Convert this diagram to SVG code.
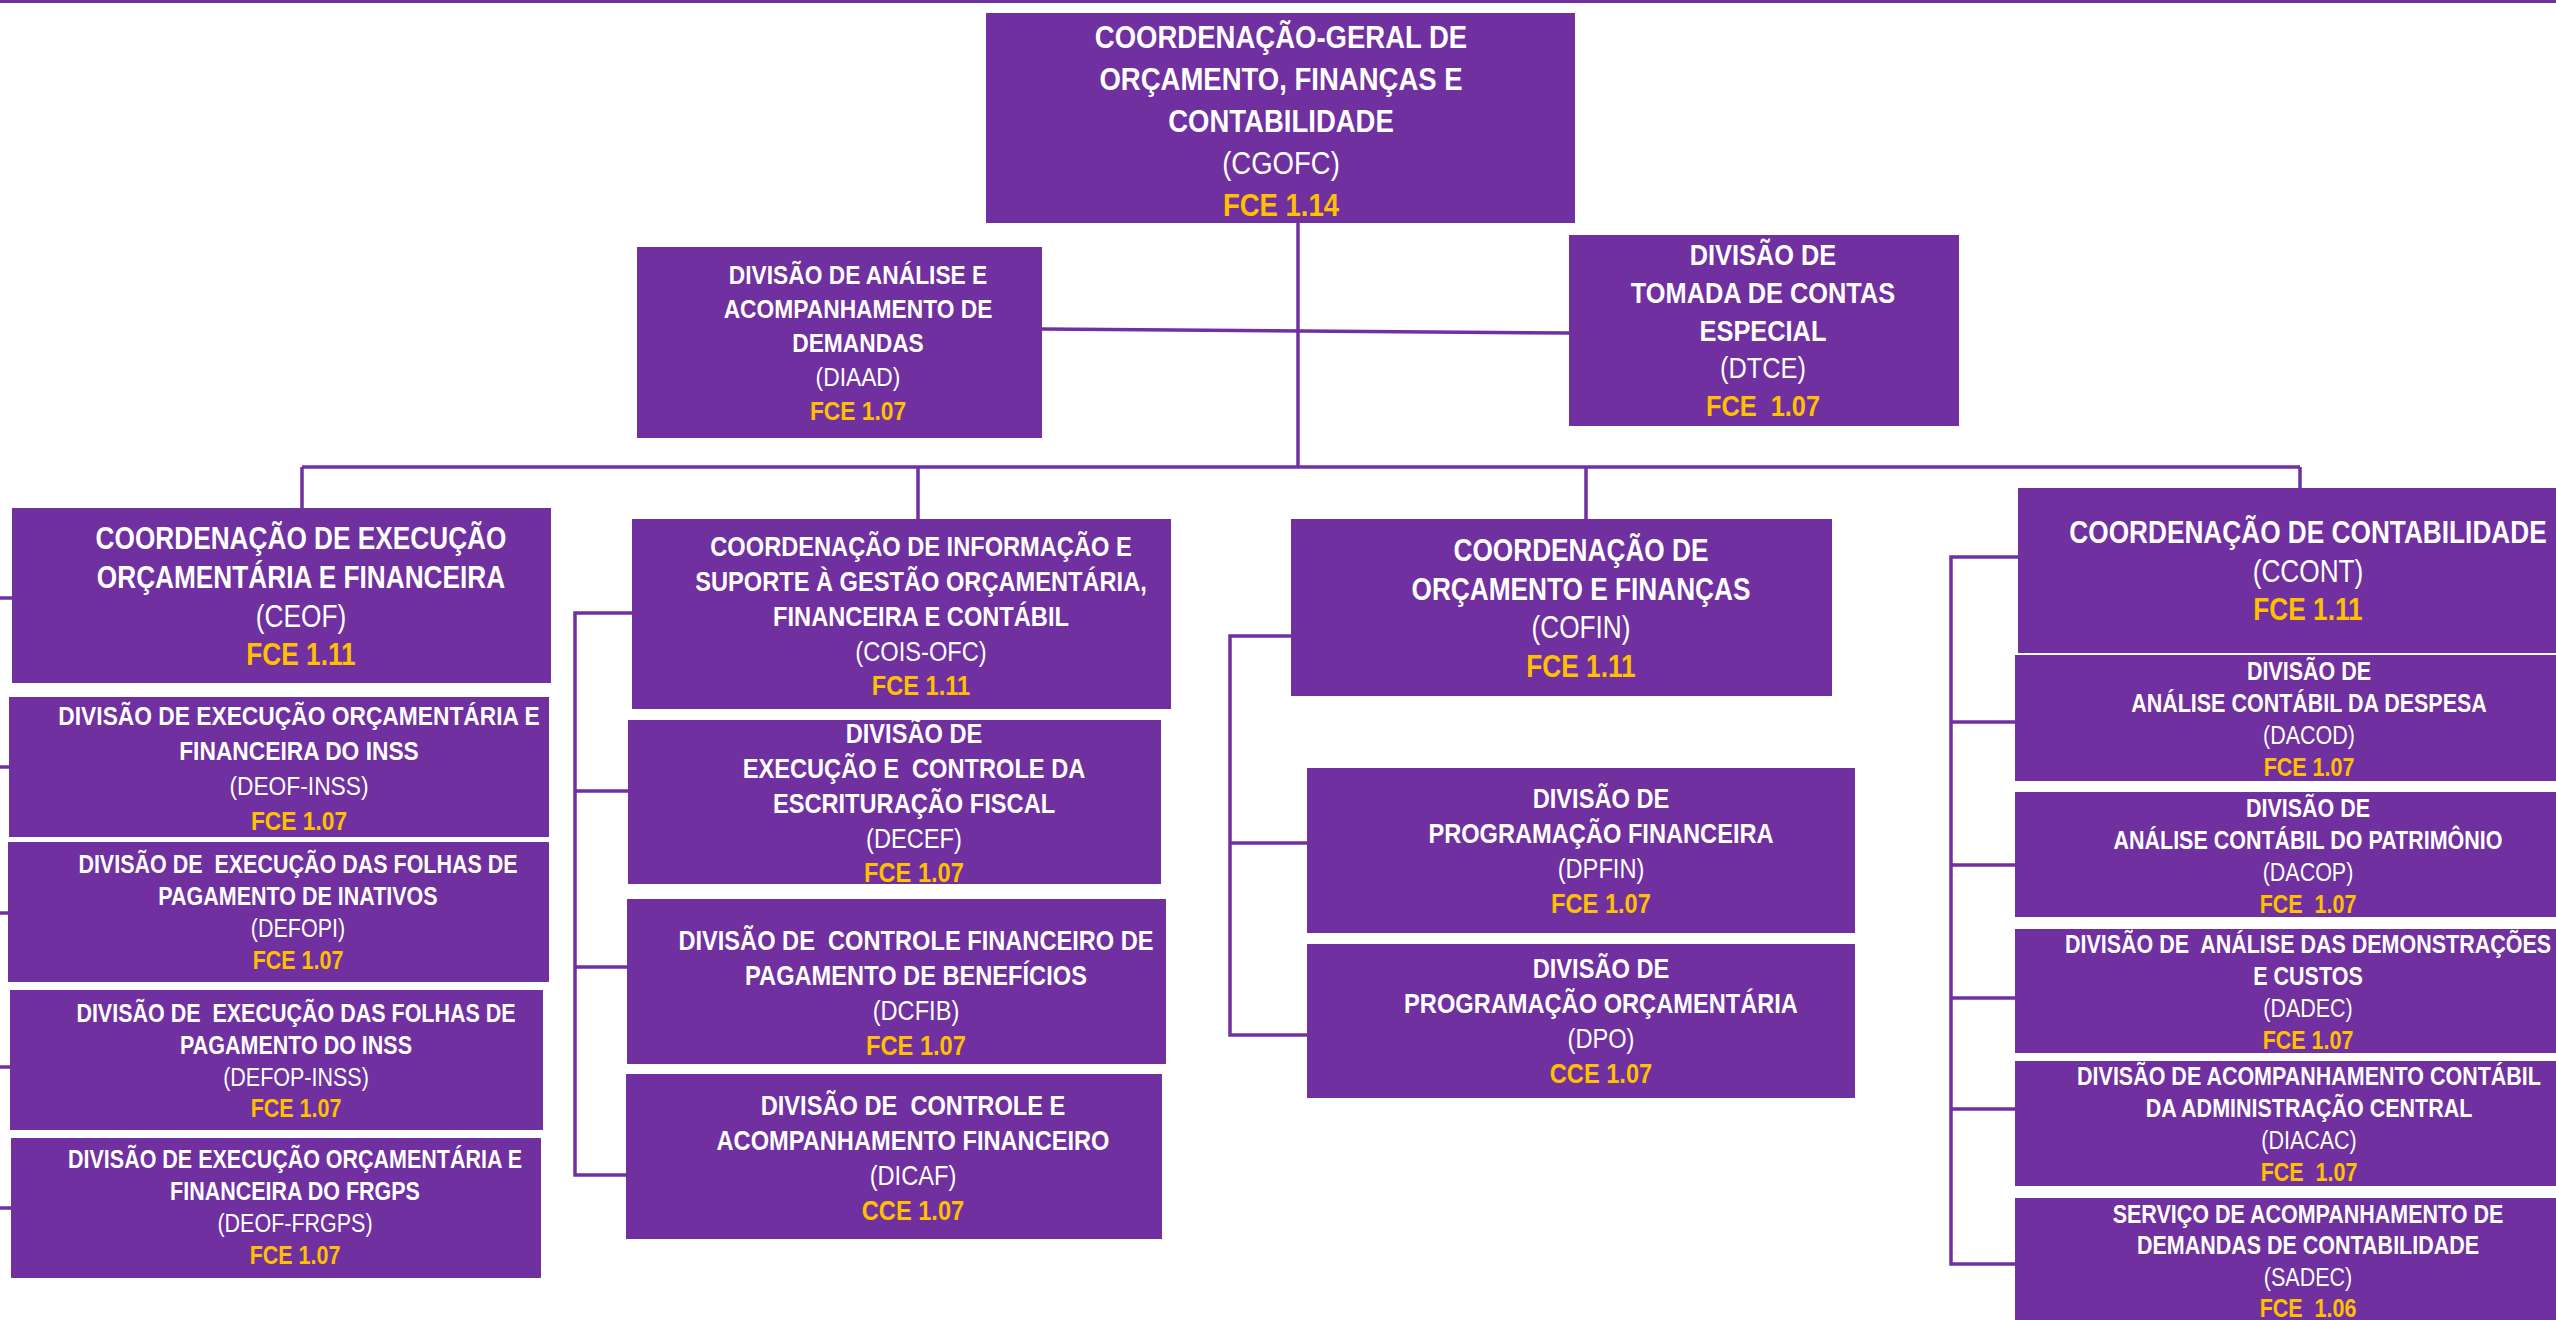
<svg xmlns="http://www.w3.org/2000/svg" width="2556" height="1320" viewBox="0 0 2556 1320" xml:space="preserve">
<style>
  .box{fill:#7030A0}
  text{font-family:"Liberation Sans",Arial,sans-serif;text-anchor:middle;fill:#FFFFFF;font-weight:bold;white-space:pre}
  text.r{font-weight:normal}
  text.g{fill:#FFC000;font-weight:bold}
  .c{fill:none;stroke:#7030A0;stroke-width:3.5}
</style>
<rect x="0" y="0" width="2556" height="1320" fill="#FFFFFF"/>
<g id="connectors" class="c">
  <path d="M0 1.5H2556" stroke-width="3"/>
  <path d="M1298 223V467"/>
  <path d="M1042 329L1569 333"/>
  <path d="M302 467H2300"/>
  <path d="M302 467V508M918 467V519M1586 467V519M2300 467V488"/>
  <path d="M0 598H12M0 767H9M0 913H8M0 1067H10M0 1208H11"/>
  <path d="M632 613H575V1175H626M575 791H628M575 967H627"/>
  <path d="M1291 636H1230V1035H1307M1230 843H1307"/>
  <path d="M2018 557H1951V1264H2015M1951 722H2015M1951 865H2015M1951 998H2015M1951 1109H2015"/>
</g>
<g id="CGOFC" font-size="32">
  <rect class="box" x="986" y="13" width="589" height="210"/>
  <g transform="translate(1281 0) scale(0.86 1)">
    <text x="0" y="48">COORDENAÇÃO-GERAL DE</text>
    <text x="0" y="90">ORÇAMENTO, FINANÇAS E</text>
    <text x="0" y="132">CONTABILIDADE</text>
    <text class="r" x="0" y="174">(CGOFC)</text>
    <text class="g" x="0" y="216">FCE 1.14</text>
  </g>
</g>
<g id="DIAAD" font-size="26.5">
  <rect class="box" x="637" y="247" width="405" height="191"/>
  <g transform="translate(858 0) scale(0.86 1)">
    <text x="0" y="284">DIVISÃO DE ANÁLISE E</text>
    <text x="0" y="318">ACOMPANHAMENTO DE</text>
    <text x="0" y="352">DEMANDAS</text>
    <text class="r" x="0" y="386">(DIAAD)</text>
    <text class="g" x="0" y="420">FCE 1.07</text>
  </g>
</g>
<g id="DTCE" font-size="29.5">
  <rect class="box" x="1569" y="235" width="390" height="191"/>
  <g transform="translate(1763 0) scale(0.86 1)">
    <text x="0" y="265">DIVISÃO DE</text>
    <text x="0" y="303">TOMADA DE CONTAS</text>
    <text x="0" y="341">ESPECIAL</text>
    <text class="r" x="0" y="378">(DTCE)</text>
    <text class="g" x="0" y="416">FCE  1.07</text>
  </g>
</g>
<g id="CEOF" font-size="30.5">
  <rect class="box" x="12" y="508" width="539" height="175"/>
  <g transform="translate(301 0) scale(0.86 1)">
    <text x="0" y="549">COORDENAÇÃO DE EXECUÇÃO</text>
    <text x="0" y="588">ORÇAMENTÁRIA E FINANCEIRA</text>
    <text class="r" x="0" y="627">(CEOF)</text>
    <text class="g" x="0" y="665">FCE 1.11</text>
  </g>
</g>
<g id="DEOF-INSS" font-size="26.5">
  <rect class="box" x="9" y="697" width="540" height="140"/>
  <g transform="translate(299 0) scale(0.86 1)">
    <text x="0" y="725">DIVISÃO DE EXECUÇÃO ORÇAMENTÁRIA E</text>
    <text x="0" y="760">FINANCEIRA DO INSS</text>
    <text class="r" x="0" y="795">(DEOF-INSS)</text>
    <text class="g" x="0" y="830">FCE 1.07</text>
  </g>
</g>
<g id="DEFOPI" font-size="25">
  <rect class="box" x="8" y="842" width="541" height="140"/>
  <g transform="translate(298 0) scale(0.86 1)">
    <text x="0" y="873">DIVISÃO DE  EXECUÇÃO DAS FOLHAS DE</text>
    <text x="0" y="905">PAGAMENTO DE INATIVOS</text>
    <text class="r" x="0" y="937">(DEFOPI)</text>
    <text class="g" x="0" y="969">FCE 1.07</text>
  </g>
</g>
<g id="DEFOP-INSS" font-size="25">
  <rect class="box" x="10" y="990" width="533" height="140"/>
  <g transform="translate(296 0) scale(0.86 1)">
    <text x="0" y="1022">DIVISÃO DE  EXECUÇÃO DAS FOLHAS DE</text>
    <text x="0" y="1054">PAGAMENTO DO INSS</text>
    <text class="r" x="0" y="1086">(DEFOP-INSS)</text>
    <text class="g" x="0" y="1117">FCE 1.07</text>
  </g>
</g>
<g id="DEOF-FRGPS" font-size="25">
  <rect class="box" x="11" y="1138" width="530" height="140"/>
  <g transform="translate(295 0) scale(0.86 1)">
    <text x="0" y="1168">DIVISÃO DE EXECUÇÃO ORÇAMENTÁRIA E</text>
    <text x="0" y="1200">FINANCEIRA DO FRGPS</text>
    <text class="r" x="0" y="1232">(DEOF-FRGPS)</text>
    <text class="g" x="0" y="1264">FCE 1.07</text>
  </g>
</g>
<g id="COIS-OFC" font-size="27.5">
  <rect class="box" x="632" y="519" width="539" height="190"/>
  <g transform="translate(921 0) scale(0.86 1)">
    <text x="0" y="556">COORDENAÇÃO DE INFORMAÇÃO E</text>
    <text x="0" y="591">SUPORTE À GESTÃO ORÇAMENTÁRIA,</text>
    <text x="0" y="626">FINANCEIRA E CONTÁBIL</text>
    <text class="r" x="0" y="661">(COIS-OFC)</text>
    <text class="g" x="0" y="695">FCE 1.11</text>
  </g>
</g>
<g id="DECEF" font-size="27.5">
  <rect class="box" x="628" y="720" width="533" height="164"/>
  <g transform="translate(914 0) scale(0.86 1)">
    <text x="0" y="743">DIVISÃO DE</text>
    <text x="0" y="778">EXECUÇÃO E  CONTROLE DA</text>
    <text x="0" y="813">ESCRITURAÇÃO FISCAL</text>
    <text class="r" x="0" y="848">(DECEF)</text>
    <text class="g" x="0" y="882">FCE 1.07</text>
  </g>
</g>
<g id="DCFIB" font-size="27.5">
  <rect class="box" x="627" y="899" width="539" height="165"/>
  <g transform="translate(916 0) scale(0.86 1)">
    <text x="0" y="950">DIVISÃO DE  CONTROLE FINANCEIRO DE</text>
    <text x="0" y="985">PAGAMENTO DE BENEFÍCIOS</text>
    <text class="r" x="0" y="1020">(DCFIB)</text>
    <text class="g" x="0" y="1055">FCE 1.07</text>
  </g>
</g>
<g id="DICAF" font-size="27.5">
  <rect class="box" x="626" y="1074" width="536" height="165"/>
  <g transform="translate(913 0) scale(0.86 1)">
    <text x="0" y="1115">DIVISÃO DE  CONTROLE E</text>
    <text x="0" y="1150">ACOMPANHAMENTO FINANCEIRO</text>
    <text class="r" x="0" y="1185">(DICAF)</text>
    <text class="g" x="0" y="1220">CCE 1.07</text>
  </g>
</g>
<g id="COFIN" font-size="30.5">
  <rect class="box" x="1291" y="519" width="541" height="177"/>
  <g transform="translate(1581 0) scale(0.86 1)">
    <text x="0" y="561">COORDENAÇÃO DE</text>
    <text x="0" y="600">ORÇAMENTO E FINANÇAS</text>
    <text class="r" x="0" y="638">(COFIN)</text>
    <text class="g" x="0" y="677">FCE 1.11</text>
  </g>
</g>
<g id="DPFIN" font-size="27.5">
  <rect class="box" x="1307" y="768" width="548" height="165"/>
  <g transform="translate(1601 0) scale(0.86 1)">
    <text x="0" y="808">DIVISÃO DE</text>
    <text x="0" y="843">PROGRAMAÇÃO FINANCEIRA</text>
    <text class="r" x="0" y="878">(DPFIN)</text>
    <text class="g" x="0" y="913">FCE 1.07</text>
  </g>
</g>
<g id="DPO" font-size="27.5">
  <rect class="box" x="1307" y="944" width="548" height="154"/>
  <g transform="translate(1601 0) scale(0.86 1)">
    <text x="0" y="978">DIVISÃO DE</text>
    <text x="0" y="1013">PROGRAMAÇÃO ORÇAMENTÁRIA</text>
    <text class="r" x="0" y="1048">(DPO)</text>
    <text class="g" x="0" y="1083">CCE 1.07</text>
  </g>
</g>
<g id="CCONT" font-size="30.5">
  <rect class="box" x="2018" y="488" width="538" height="165"/>
  <g transform="translate(2308 0) scale(0.86 1)">
    <text x="0" y="543">COORDENAÇÃO DE CONTABILIDADE</text>
    <text class="r" x="0" y="582">(CCONT)</text>
    <text class="g" x="0" y="620">FCE 1.11</text>
  </g>
</g>
<g id="DACOD" font-size="25">
  <rect class="box" x="2015" y="655" width="541" height="126"/>
  <g transform="translate(2309 0) scale(0.86 1)">
    <text x="0" y="680">DIVISÃO DE</text>
    <text x="0" y="712">ANÁLISE CONTÁBIL DA DESPESA</text>
    <text class="r" x="0" y="744">(DACOD)</text>
    <text class="g" x="0" y="776">FCE 1.07</text>
  </g>
</g>
<g id="DACOP" font-size="25">
  <rect class="box" x="2015" y="792" width="541" height="125"/>
  <g transform="translate(2308 0) scale(0.86 1)">
    <text x="0" y="817">DIVISÃO DE</text>
    <text x="0" y="849">ANÁLISE CONTÁBIL DO PATRIMÔNIO</text>
    <text class="r" x="0" y="881">(DACOP)</text>
    <text class="g" x="0" y="913">FCE  1.07</text>
  </g>
</g>
<g id="DADEC" font-size="25">
  <rect class="box" x="2015" y="929" width="541" height="124"/>
  <g transform="translate(2308 0) scale(0.86 1)">
    <text x="0" y="953">DIVISÃO DE  ANÁLISE DAS DEMONSTRAÇÕES</text>
    <text x="0" y="985">E CUSTOS</text>
    <text class="r" x="0" y="1017">(DADEC)</text>
    <text class="g" x="0" y="1049">FCE 1.07</text>
  </g>
</g>
<g id="DIACAC" font-size="25">
  <rect class="box" x="2015" y="1061" width="541" height="125"/>
  <g transform="translate(2309 0) scale(0.86 1)">
    <text x="0" y="1085">DIVISÃO DE ACOMPANHAMENTO CONTÁBIL</text>
    <text x="0" y="1117">DA ADMINISTRAÇÃO CENTRAL</text>
    <text class="r" x="0" y="1149">(DIACAC)</text>
    <text class="g" x="0" y="1181">FCE  1.07</text>
  </g>
</g>
<g id="SADEC" font-size="25">
  <rect class="box" x="2015" y="1198" width="541" height="130"/>
  <g transform="translate(2308 0) scale(0.86 1)">
    <text x="0" y="1223">SERVIÇO DE ACOMPANHAMENTO DE</text>
    <text x="0" y="1254">DEMANDAS DE CONTABILIDADE</text>
    <text class="r" x="0" y="1286">(SADEC)</text>
    <text class="g" x="0" y="1317">FCE  1.06</text>
  </g>
</g>
</svg>
